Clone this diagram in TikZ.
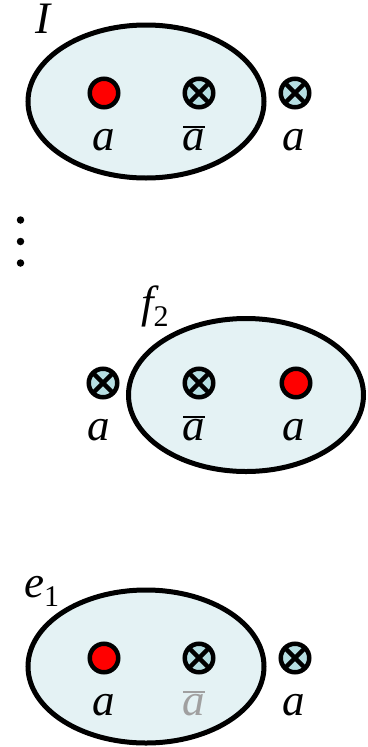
\documentclass[tikz,border=0pt]{standalone}
\usepackage{fontspec}
\setmainfont{Liberation Serif}
\usetikzlibrary{calc}
\definecolor{setfill}{RGB}{228,242,244}
\definecolor{otfill}{RGB}{182,222,226}
\definecolor{dotred}{RGB}{255,0,0}
\definecolor{fadegray}{RGB}{160,160,160}
\tikzset{
  reddot/.style={circle, draw=black, line width=4.5pt, fill=dotred, minimum size=28.5pt, inner sep=0pt},
  otdot/.style={circle, draw=black, line width=4.5pt, fill=otfill, minimum size=28.5pt, inner sep=0pt},
  crossline/.style={line width=4.5pt, line cap=butt},
  lab/.style={font=\fontsize{45}{50}\selectfont\itshape, inner sep=0pt},
  barline/.style={line width=2pt},
  setline/.style={line width=5pt},
  vdot/.style={circle, fill=black, minimum size=7.5pt, inner sep=0pt}
}
\begin{document}
\begin{tikzpicture}[x=1pt,y=-1pt]
\useasboundingbox (0,0) rectangle (367,747);
% top group
\fill[setfill] (146,101.5) ellipse [x radius=118, y radius=76.5];
\draw[setline] (146,101.5) ellipse [x radius=118, y radius=76.5];
\node[reddot] (t1) at (104,93) {};
\node[otdot] (t2) at (199,93) {};
\node[otdot] (t3) at (295,93) {};
\node[lab] (ta1) at (104,140) {a};
\node[lab] (ta2) at (194,140) {a};
\node[lab] (ta3) at (294,140) {a};
\draw[barline] (183,127) -- (205,127);
\node[lab] (tI) at (43,19) {I};
% dots
\node[vdot] (d1) at (20.5,220) {};
\node[vdot] (d2) at (20.5,241.5) {};
\node[vdot] (d3) at (20.5,263) {};
% middle group
\fill[setfill] (246,395) ellipse [x radius=117.5, y radius=76.5];
\draw[setline] (246,395) ellipse [x radius=117.5, y radius=76.5];
\node[otdot] (m1) at (103,383) {};
\node[otdot] (m2) at (199,383) {};
\node[reddot] (m3) at (296,383) {};
\node[lab] (ma1) at (99,430) {a};
\node[lab] (ma2) at (194,430) {a};
\node[lab] (ma3) at (294,430) {a};
\draw[barline] (183,417) -- (205,417);
\node[lab, anchor=base west] (mf) at (141,317) {f\raisebox{-0.22em}{\normalfont\fontsize{30}{30}\selectfont 2}};
% bottom group
\fill[setfill] (146,666.5) ellipse [x radius=118, y radius=76.5];
\draw[setline] (146,666.5) ellipse [x radius=118, y radius=76.5];
\node[reddot] (b1) at (104,658) {};
\node[otdot] (b2) at (199,658) {};
\node[otdot] (b3) at (295,658) {};
\node[lab] (ba1) at (104,705) {a};
\node[lab, text=fadegray] (ba2) at (194,705) {a};
\node[lab] (ba3) at (294,705) {a};
\draw[barline, fadegray] (183,692) -- (205,692);
\node[lab, anchor=base west] (be) at (24,597) {e\raisebox{-0.22em}{\normalfont\fontsize{30}{30}\selectfont 1}};
% crosses in the otimes symbols
\foreach \n in {t2,t3,m1,m2,b2,b3}{
  \draw[crossline] ($(\n)+(-9,-9)$) -- ($(\n)+(9,9)$);
  \draw[crossline] ($(\n)+(-9,9)$) -- ($(\n)+(9,-9)$);
}
\end{tikzpicture}
\end{document}
